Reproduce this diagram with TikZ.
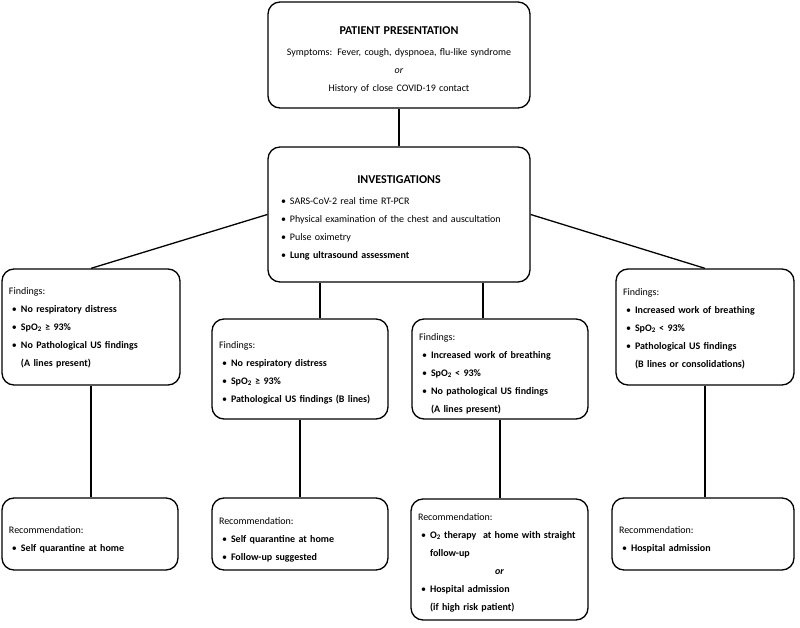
\documentclass[tikz,border=0pt]{standalone}
\usepackage{fontspec}
\setmainfont{Carlito}
\newcommand{\bul}[1]{\mbox{\hspace*{3pt}\makebox[9pt][l]{\textbullet}\textbf{#1}}}
\newcommand{\bulr}[1]{\mbox{\hspace*{3pt}\makebox[9pt][l]{\textbullet}#1}}
\newcommand{\cont}[1]{\mbox{\hspace*{12pt}\textbf{#1}}}
\newcommand{\ctr}[1]{\makebox[\hsize][c]{#1}}
\newcommand{\spo}{SpO\textsubscript{2}}
\newcommand{\dn}[1]{\rule{0pt}{#1}}
\begin{document}
\begin{tikzpicture}[x=1pt,y=-1pt,
  box/.style={draw, rounded corners=12pt, line width=1.3pt, inner xsep=7pt, inner ysep=0pt,
    align=left, font=\fontsize{10}{18}\selectfont},
  link/.style={line width=1.3pt}]
\fill[white] (0,0) rectangle (800,628);
\useasboundingbox (0,0) rectangle (800,628);

% top boxes
\node[box, align=center, text width=248pt, minimum height=106pt] (pp) at (399,55)
  {\dn{17pt}{\fontsize{12}{18}\selectfont\bfseries PATIENT PRESENTATION}\\[3pt]
   Symptoms: Fever, cough, dyspnoea, flu-like syndrome\\
   \textit{or}\\
   History of close COVID-19 contact};

\node[box, inner xsep=10pt, text width=242pt, minimum height=135pt] (inv) at (399,214.5)
  {\dn{14pt}\ctr{\fontsize{12}{18}\selectfont\bfseries INVESTIGATIONS}\\[3pt]
   \bulr{SARS-CoV-2 real time RT-PCR}\\
   \bulr{Physical examination of the chest and auscultation}\\
   \bulr{Pulse oximetry}\\
   \bul{Lung ultrasound assessment}};

% findings
\node[box, text width=164pt, minimum height=116pt] (f1) at (91,327)
  {\dn{8pt}Findings:\\
   \bul{No respiratory distress}\\
   \bul{\spo{} ≥ 93\%}\\
   \bul{No Pathological US findings}\\
   \cont{(A lines present)}};

\node[box, text width=162pt, minimum height=100pt] (f2) at (300,369)
  {\dn{14.5pt}Findings:\\
   \bul{No respiratory distress}\\
   \bul{\spo{} ≥ 93\%}\\
   \bul{Pathological US findings (B lines)}};

\node[box, text width=162pt, minimum height=100pt] (f3) at (500,369)
  {\dn{16pt}Findings:\\
   \bul{Increased work of breathing}\\
   \bul{\spo{} < 93\%}\\
   \bul{No pathological US findings}\\
   \cont{(A lines present)}};

\node[box, text width=164pt, minimum height=116pt] (f4) at (705,327)
  {\dn{10.5pt}Findings:\\
   \bul{Increased work of breathing}\\
   \bul{\spo{} < 93\%}\\
   \bul{Pathological US findings}\\
   \cont{(B lines or consolidations)}};

% recommendations
\node[box, text width=162pt, minimum height=72pt] (r1) at (90,534)
  {\dn{19.5pt}Recommendation:\\
   \bul{Self quarantine at home}};

\node[box, text width=162pt, minimum height=72pt] (r2) at (300,534)
  {\dn{19.5pt}Recommendation:\\
   \bul{Self quarantine at home}\\
   \bul{Follow-up suggested}};

\node[box, text width=163pt, minimum height=121pt] (r3) at (499.5,559.5)
  {\dn{13.5pt}Recommendation:\\
   \bul{O\textsubscript{2} therapy \ at home with straight}\\
   \cont{follow-up}\\
   \ctr{\textbf{\textit{or}}}\\
   \bul{Hospital admission}\\
   \cont{(if high risk patient)}};

\node[box, text width=168pt, minimum height=72pt] (r4) at (703,534)
  {\dn{19.5pt}Recommendation:\\
   \bul{Hospital admission}};

% connectors
\draw[link] (pp) -- (inv);
\draw[link] (inv.west) -- (f1.north);
\draw[link] (inv.east) -- (f4.north);
\draw[link] ([xshift=-79pt]inv.south) -- ([xshift=-79pt]inv.south |- f2.north);
\draw[link] ([xshift=84pt]inv.south) -- ([xshift=84pt]inv.south |- f3.north);
\draw[link] (f1.south) -- (f1.south |- r1.north);
\draw[link] (f2.south) -- (f2.south |- r2.north);
\draw[link] (f3.south) -- (f3.south |- r3.north);
\draw[link] (f4.south) -- (f4.south |- r4.north);
\end{tikzpicture}
\end{document}
